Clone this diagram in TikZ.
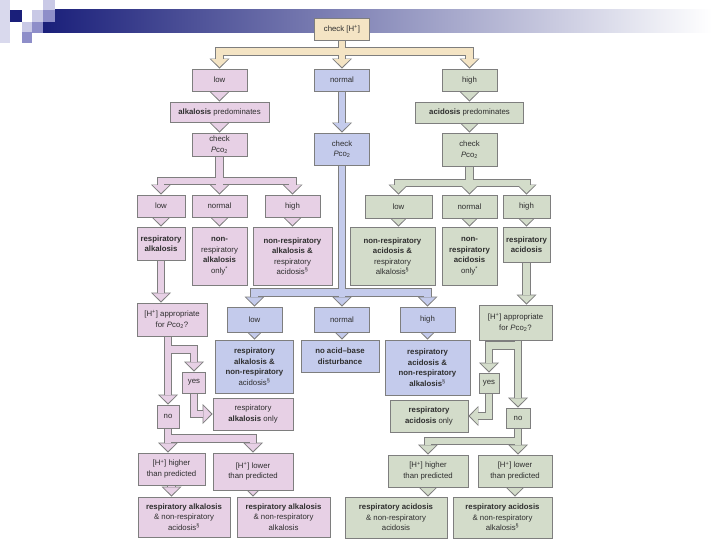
\documentclass[tikz,border=0pt]{standalone}
\usepackage{fontspec}
\setmainfont{Liberation Sans}
\usetikzlibrary{arrows.meta}

\definecolor{peach}{HTML}{F4E4C4}
\definecolor{pinkfill}{HTML}{E7D0E5}
\definecolor{bluefill}{HTML}{C4CBEC}
\definecolor{greenfill}{HTML}{D3DCCA}
\definecolor{rimgray}{HTML}{7E7E7E}
\definecolor{inkgray}{HTML}{2E2E2E}
\definecolor{navy}{HTML}{1A1F7A}
\definecolor{lavender}{HTML}{C9C9E6}
\definecolor{midblue}{HTML}{8E8EC9}
\definecolor{bannermid}{HTML}{9EA3CB}

\pgfdeclarelayer{rim}
\pgfdeclarelayer{front}
\pgfsetlayers{rim,main,front}

\newcommand{\pco}{\textit{P}co\textsubscript{2}}
\newcommand{\hplus}{[H\textsuperscript{+}]}

\tikzset{
  box/.style={draw=rimgray, line width=0.9pt, align=center, inner sep=1pt, text=inkgray,
              font=\fontsize{7.8}{10.5}\selectfont},
  dims/.style 2 args={minimum width=#1pt, minimum height=#2pt},
  peachbox/.style={box, fill=peach},
  pinkbox/.style={box, fill=pinkfill},
  bluebox/.style={box, fill=bluefill},
  greenbox/.style={box, fill=greenfill},
  rimshaft/.style={draw=rimgray, line width=8.5pt, line join=miter,
                   -{Triangle[width=20pt,length=10pt,line width=0pt]}},
  fillshaft/.style={draw=#1, line width=6.5pt, line join=miter, shorten >=1.5pt,
                    -{Triangle[width=16.5pt,length=7.8pt,line width=0pt]}},
}
\newcommand{\flowarrow}[2]{%
  \begin{pgfonlayer}{rim}\draw[rimshaft] #2;\end{pgfonlayer}
  \draw[fillshaft=#1] #2;}

\begin{document}
\begin{tikzpicture}[x=1pt,y=-1pt]
    \useasboundingbox (0,0) rectangle (720,540);

    % Banner
    \shade[left color=navy, middle color=bannermid, right color=white] (43,10) rectangle (712,33);
    \fill[lavender!70!white] (0,0) rectangle (10,43);
    \fill[navy] (10,10) rectangle (22,22);
    \fill[lavender] (32,10) rectangle (43,22);
    \fill[lavender] (43,0) rectangle (55,10);
    \fill[midblue] (43,10) rectangle (55,22);
    \fill[lavender] (22,22) rectangle (32,32);
    \fill[midblue] (32,22) rectangle (43,33);
    \fill[midblue] (22,32) rectangle (32,43);

    \begin{pgfonlayer}{front}
    % Start
    \node[peachbox, dims={55}{22}] (chkH) at (342,29) {check \hplus};
    \node[pinkbox, dims={55}{22}] (lowP) at (219.5,80) {low};
    \node[bluebox, dims={55}{22}] (normB) at (342,80) {normal};
    \node[greenbox, dims={55}{22}] (highG) at (469.5,80) {high};
    \node[pinkbox, dims={99}{20}] (alkPred) at (219.5,112) {\textbf{alkalosis} predominates};
    \node[greenbox, dims={108}{21}] (acidPred) at (469.5,112.5) {\textbf{acidosis} predominates};
    \node[pinkbox, dims={55}{23}] (chkP) at (219.5,144.5) {check\\\pco};
    \node[bluebox, dims={55}{32}] (chkPb) at (342,149) {check\\\pco};
    \node[greenbox, dims={55}{33}] (chkPg) at (469.5,149.5) {check\\\pco};

    % Alkalosis
    \node[pinkbox, dims={48}{22}] (pLow) at (161,206) {low};
    \node[pinkbox, dims={55}{22}] (pNorm) at (219.5,206) {normal};
    \node[pinkbox, dims={55}{22}] (pHigh) at (292.5,206) {high};
    \node[pinkbox, dims={48}{33}] (pRes1) at (161,243.5) {\textbf{respiratory}\\\textbf{alkalosis}};
    \node[pinkbox, dims={55}{58}] (pRes2) at (219.5,256) {\textbf{non-}\\respiratory\\\textbf{alkalosis}\\only\textsuperscript{*}};
    \node[pinkbox, dims={79}{58}] (pRes3) at (292.5,256) {\textbf{non-respiratory}\\\textbf{alkalosis \&}\\respiratory\\acidosis\textsuperscript{\S}};
    \node[pinkbox, dims={70}{33}] (pApp) at (172,319.5) {\hplus{} appropriate\\for \pco?};
    \node[pinkbox, dims={23}{21}] (pYes) at (194,382.5) {yes};
    \node[pinkbox, dims={22}{23}] (pNo) at (168,416.5) {no};
    \node[pinkbox, dims={80}{32}] (pOnly) at (253,414) {respiratory\\\textbf{alkalosis} only};
    \node[pinkbox, dims={67}{32}] (pHigher) at (171.5,469) {\hplus{} higher\\than predicted};
    \node[pinkbox, dims={80}{37}] (pLower) at (253,471.5) {\hplus{} lower\\than predicted};
    \node[pinkbox, dims={92}{40}] (pFin1) at (184,517) {\textbf{respiratory alkalosis}\\\& non-respiratory\\acidosis\textsuperscript{\S}};
    \node[pinkbox, dims={93}{40}] (pFin2) at (283.5,517) {\textbf{respiratory alkalosis}\\\& non-respiratory\\alkalosis};

    % Normal
    \node[bluebox, dims={55}{25}] (bLow) at (254.5,319.5) {low};
    \node[bluebox, dims={55}{25}] (bNorm) at (342,319.5) {normal};
    \node[bluebox, dims={55}{25}] (bHigh) at (427.5,319.5) {high};
    \node[bluebox, dims={78}{53}] (bRes1) at (254.5,366.5) {\textbf{respiratory}\\\textbf{alkalosis \&}\\\textbf{non-respiratory}\\acidosis\textsuperscript{\S}};
    \node[bluebox, dims={78}{32}] (bRes2) at (340,356) {\textbf{no acid--base}\\\textbf{disturbance}};
    \node[bluebox, dims={85}{55}] (bRes3) at (427.5,367.5) {\textbf{respiratory}\\\textbf{acidosis \&}\\\textbf{non-respiratory}\\\textbf{alkalosis}\textsuperscript{\S}};

    % Acidosis
    \node[greenbox, dims={67}{23}] (gLow) at (398.5,206.5) {low};
    \node[greenbox, dims={55}{23}] (gNorm) at (469.5,206.5) {normal};
    \node[greenbox, dims={47}{23}] (gHigh) at (526.5,206.5) {high};
    \node[greenbox, dims={85}{58}] (gRes1) at (392.5,256) {\textbf{non-respiratory}\\\textbf{acidosis \&}\\respiratory\\alkalosis\textsuperscript{\S}};
    \node[greenbox, dims={55}{58}] (gRes2) at (469.5,256) {\textbf{non-}\\\textbf{respiratory}\\\textbf{acidosis}\\only\textsuperscript{*}};
    \node[greenbox, dims={47}{35}] (gRes3) at (526.5,244.5) {\textbf{respiratory}\\\textbf{acidosis}};
    \node[greenbox, dims={73}{35}] (gApp) at (515.5,322.5) {\hplus{} appropriate\\for \pco?};
    \node[greenbox, dims={20}{20}] (gYes) at (489,383) {yes};
    \node[greenbox, dims={24}{20}] (gNo) at (518,418) {no};
    \node[greenbox, dims={78}{32}] (gOnly) at (429,416) {\textbf{respiratory}\\\textbf{acidosis} only};
    \node[greenbox, dims={80}{32}] (gHigher) at (428,471) {\hplus{} higher\\than predicted};
    \node[greenbox, dims={74}{32}] (gLower) at (515,471) {\hplus{} lower\\than predicted};
    \node[greenbox, dims={102}{41}] (gFin1) at (396,517.5) {\textbf{respiratory acidosis}\\\& non-respiratory\\acidosis};
    \node[greenbox, dims={99}{41}] (gFin2) at (502.5,517.5) {\textbf{respiratory acidosis}\\\& non-respiratory\\alkalosis\textsuperscript{\S}};
    \end{pgfonlayer}

    % Arrows from check [H+]
    \coordinate (hFork) at (342,51.5);
    \flowarrow{peach}{(chkH.center) -- (normB.north)}
    \flowarrow{peach}{(hFork) -| (lowP.north)}
    \flowarrow{peach}{(hFork) -| (highG.north)}

    % Alkalosis arrows
    \flowarrow{pinkfill}{(lowP.center) -- (alkPred.north)}
    \flowarrow{pinkfill}{(alkPred.center) -- (chkP.north)}
    \coordinate (pFork) at (219.5,181);
    \flowarrow{pinkfill}{(chkP.center) -- (pNorm.north)}
    \flowarrow{pinkfill}{(pFork) -| (pLow.north)}
    \flowarrow{pinkfill}{(pFork) -| (pHigh.north)}
    \flowarrow{pinkfill}{(pLow.center) -- (pRes1.north)}
    \flowarrow{pinkfill}{(pNorm.center) -- (pRes2.north)}
    \flowarrow{pinkfill}{(pHigh.center) -- (pRes3.north)}
    \flowarrow{pinkfill}{(pRes1.center) -- (pRes1.center |- pApp.north)}
    \coordinate (pFork2) at (168,349.5);
    \flowarrow{pinkfill}{(pNo.north |- pApp.center) -- (pNo.north)}
    \flowarrow{pinkfill}{(pFork2) -| (pYes.north)}
    \flowarrow{pinkfill}{(pYes.center) |- (pOnly.west)}
    \coordinate (pFork3) at (168,438.5);
    \flowarrow{pinkfill}{(pNo.center) -- (pNo.center |- pHigher.north)}
    \flowarrow{pinkfill}{(pFork3) -| (pLower.north)}
    \flowarrow{pinkfill}{(pHigher.center) -- (pHigher.center |- pFin1.north)}
    \flowarrow{pinkfill}{(pLower.center) -- (pLower.center |- pFin2.north)}

    % Normal arrows
    \flowarrow{bluefill}{(normB.center) -- (chkPb.north)}
    \coordinate (bFork) at (342,292.5);
    \flowarrow{bluefill}{(chkPb.center) -- (bNorm.north)}
    \flowarrow{bluefill}{(bFork) -| (bLow.north)}
    \flowarrow{bluefill}{(bFork) -| (bHigh.north)}
    \flowarrow{bluefill}{(bLow.center) -- (bRes1.north)}
    \flowarrow{bluefill}{(bNorm.center) -- (bNorm.center |- bRes2.north)}
    \flowarrow{bluefill}{(bHigh.center) -- (bRes3.north)}

    % Acidosis arrows
    \flowarrow{greenfill}{(highG.center) -- (acidPred.north)}
    \flowarrow{greenfill}{(acidPred.center) -- (chkPg.north)}
    \coordinate (gFork) at (469.5,183);
    \flowarrow{greenfill}{(chkPg.center) -- (gNorm.north)}
    \flowarrow{greenfill}{(gFork) -| (gLow.north)}
    \flowarrow{greenfill}{(gFork) -| (gHigh.north)}
    \flowarrow{greenfill}{(gLow.center) -- (gLow.center |- gRes1.north)}
    \flowarrow{greenfill}{(gNorm.center) -- (gRes2.north)}
    \flowarrow{greenfill}{(gHigh.center) -- (gRes3.north)}
    \flowarrow{greenfill}{(gRes3.center) -- (gRes3.center |- gApp.north)}
    \coordinate (gFork2) at (518,345.5);
    \flowarrow{greenfill}{(gNo.north |- gApp.center) -- (gNo.north)}
    \flowarrow{greenfill}{(gFork2) -| (gYes.north)}
    \flowarrow{greenfill}{(gYes.center) |- (gOnly.east)}
    \coordinate (gFork3) at (518,441);
    \flowarrow{greenfill}{(gNo.center) -- (gNo.center |- gLower.north)}
    \flowarrow{greenfill}{(gFork3) -| (gHigher.north)}
    \flowarrow{greenfill}{(gHigher.center) -- (gHigher.center |- gFin1.north)}
    \flowarrow{greenfill}{(gLower.center) -- (gLower.center |- gFin2.north)}
\end{tikzpicture}
\end{document}
